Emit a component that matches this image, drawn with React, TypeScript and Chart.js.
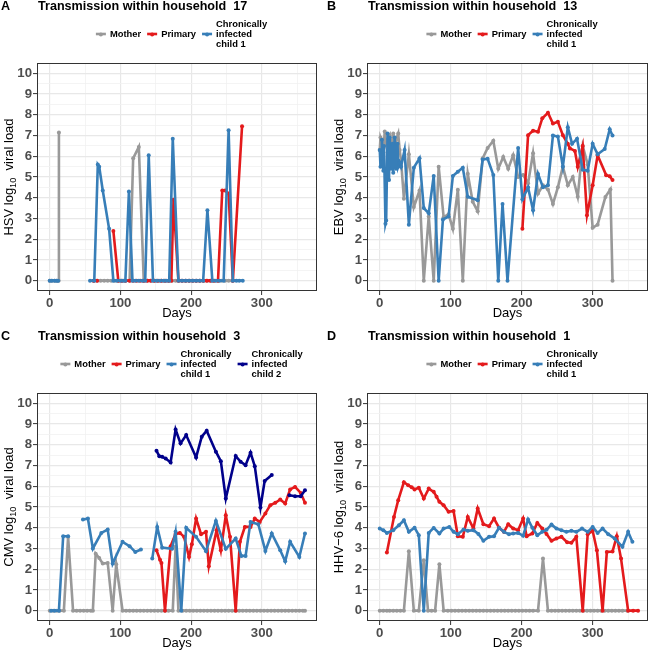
import React, { useEffect, useRef } from "react";
import { Chart, registerables } from "chart.js";
Chart.register(...registerables);

type Pt = [number, number | null];

const GRAY = "#999999";
const RED = "#E41A1C";
const BLUE = "#377EB8";
const NAVY = "#00008B";
const FONT = '"Liberation Sans", Arial, sans-serif';

const xTicks = [0, 50, 100, 150, 200, 250, 300, 350];
const yTicks = [0, 0.5, 1, 1.5, 2, 2.5, 3, 3.5, 4, 4.5, 5, 5.5, 6, 6.5, 7, 7.5, 8, 8.5, 9, 9.5, 10];

// ---------- Panel A: HSV, household 17 ----------
const hsvMother: Pt[] = [
  [0, 0], [3, 0], [7, 0], [10, 0], [12.5, 0], [13, 7.15], [30, null],
  [62, 0], [67, 0], [72, 0], [77, 0], [82, 0], [87, 0], [92, 0], [97, 0], [102, 0], [107, 0], [113, 0],
  [118, 5.9], [126, 6.45], [133, 0], [138, 0], [143, 0], [148, 0], [153, 0], [158, 0], [163, 0], [168, 0],
  [173, 0], [178, 0], [183, 0], [188, 0], [193, 0], [198, 0], [203, 0], [208, 0], [213, 0], [218, 0],
  [223, 0], [228, 0], [233, 0], [238, 0], [243, 0], [248, 0], [253, 0], [258, 0],
];
const hsvPrimary: Pt[] = [
  [62, 0], [67, 0], [75, null],
  [90, 2.4], [97, 0], [102, 0], [107, 0], [113, 0], [118, 0], [123, 0], [128, 0], [133, 0], [138, 0],
  [143, 0], [148, 0], [153, 0], [158, 0], [163, 0], [168, 0], [172, 0], [175, 3.9], [182, 0], [187, 0],
  [192, 0], [197, 0], [202, 0], [207, 0], [212, 0], [217, 0], [222, 0], [227, 0], [232, 0], [238, 0],
  [244, 4.35], [248, 4.35], [253, 4.2], [259, 0], [272, 7.45],
];
const hsvChild1: Pt[] = [
  [0, 0], [3, 0], [7, 0], [10, 0], [12, 0], [30, null],
  [57, 0], [63, 0], [68, 5.6], [70, 5.5], [75, 4.35], [84, 2.5], [90, 0], [95, 0], [100, 0], [104, 0],
  [107, 0], [112, 4.3], [117, 0], [121, 0], [126, 0], [131, 0], [135, 0], [140, 6.05], [146, 0], [151, 0],
  [156, 0], [161, 0], [165, 0], [169, 0], [174, 6.85], [182, 0], [187, 0], [192, 0], [197, 0], [202, 0],
  [207, 0], [212, 0], [217, 0], [223, 3.4], [230, 0], [235, 0], [240, 0], [246, 0], [253, 7.25], [259, 0],
  [264, 0], [268, 0], [273, 0],
];

// ---------- Panel B: EBV, household 13 ----------
const ebvMother: Pt[] = [
  [0, 6.3], [1, 6.9], [3, 6.7], [5, 6.2], [7, 7.2], [9, 6.6], [11, 6.8], [14, 7.0], [16, 6.1], [19, 7.1],
  [21, 6.3], [23, 6.8], [26, 7.1], [28, 6.3], [30, 5.8], [34, 3.95], [41, 6.1], [48, 3.55], [56, 4.35],
  [62, 0], [69, 3.1], [76, 0], [83, 5.5], [90, 3.06], [97, 3.2], [103, 2.5], [110, 4.39], [117, 0],
  [124, 5.16], [131, 3.8], [138, 3.35], [145, 5.9], [152, 6.4], [160, 6.75], [167, 5.4], [174, 5.97],
  [181, 5.4], [188, 6.05], [195, 5.0], [202, 5.1], [209, 4.7], [216, 6.15], [223, 4.2], [230, 4.6],
  [237, 4.4], [244, 3.7], [251, 4.5], [258, 5.5], [265, 4.6], [272, 5.0], [279, 4.05], [286, 6.5],
  [293, 5.6], [300, 2.55], [307, 2.7], [318, 4.04], [325, 4.4], [328, 0],
];
const ebvPrimary: Pt[] = [
  [201, 2.5], [209, 7.02], [216, 7.23], [223, 7.18], [229, 7.83], [237, 8.1], [244, 7.58], [251, 7.66],
  [258, 7.02], [265, 6.6], [268, 6.38], [275, 6.26], [279, 5.49], [286, 6.49], [292, 3.16], [300, 4.6],
  [307, 6.05], [319, 5.09], [324, 5.04], [328, 4.85],
];
const ebvChild1: Pt[] = [
  [0, 6.3], [1, 5.5], [2, 5.9], [3, 6.8], [5, 5.3], [6, 6.5], [8, 2.75], [9, 2.9], [11, 7.1], [13, 4.85],
  [14, 6.9], [16, 5.4], [18, 6.6], [19, 5.2], [21, 6.9], [23, 5.4], [25, 6.6], [26, 5.5], [28, 5.7],
  [30, 5.5], [35, 6.3], [41, 2.7], [48, 5.45], [56, 5.9], [62, 3.5], [69, 3.25], [76, 5.05], [83, 0],
  [89, 2.95], [97, 3.1], [103, 5.05], [110, 5.25], [117, 5.45], [124, 4.05], [138, 3.88], [145, 5.85],
  [152, 5.88], [160, 5.1], [167, 0], [173, 3.7], [180, 0], [195, 6.4], [201, 3.93], [209, 4.5],
  [216, 3.4], [223, 5.15], [230, 4.5], [237, 4.6], [244, 7.0], [251, 6.95], [258, 5.5], [265, 7.4],
  [271, 6.6], [278, 6.85], [286, 5.35], [293, 5.3], [300, 6.6], [307, 6.1], [317, 6.35], [324, 7.3],
  [328, 7.0],
];

// ---------- Panel C: CMV, household 3 ----------
const cmvMother: Pt[] = [
  [0, 0], [5, 0], [10, 0], [14, 0], [20, 0], [26, 3.56], [33, 0], [38, 0], [43, 0], [48, 0], [53, 0],
  [58, 0], [61, 0], [65, 2.75], [70, 2.54], [75, 2.27], [82, 2.3], [89, 0], [94, 2.24], [103, 0],
  [108, 0], [113, 0], [118, 0], [123, 0], [128, 0], [133, 0], [138, 0], [143, 0], [148, 0], [153, 0],
  [158, 0], [163, 0], [168, 0], [174, 0], [178, 3.08], [182, 0], [188, 0], [193, 0], [198, 0], [203, 0],
  [208, 0], [213, 0], [218, 0], [223, 0], [228, 0], [233, 0], [238, 0], [243, 0], [248, 0], [253, 0],
  [258, 0], [263, 0], [268, 0], [273, 0], [278, 0], [283, 0], [288, 0], [293, 0], [298, 0], [303, 0],
  [308, 0], [313, 0], [318, 0], [323, 0], [328, 0], [333, 0], [338, 0], [343, 0], [348, 0], [353, 0],
  [358, 0], [361, 0],
];
const cmvPrimary: Pt[] = [
  [151, 2.91], [156, 2.46], [158, 2.3], [163, 0], [171, 3.11], [178, 3.7], [184, 3.75], [190, 3.56],
  [197, 2.59], [201, 3.2], [207, 4.44], [214, 3.69], [221, 3.8], [225, 2.14], [236, 3.88], [242, 2.91],
  [249, 4.6], [255, 3.56], [263, 0], [269, 3.32], [276, 4.04], [284, 4.04], [290, 4.44], [297, 4.28],
  [305, 4.69], [312, 5.09], [319, 5.2], [326, 5.36], [333, 5.17], [340, 5.85], [347, 5.97], [355, 5.68],
  [361, 5.2],
];
const cmvChild1: Pt[] = [
  [2, 0], [7, 0], [13, 0], [19, 3.59], [26, 3.59], [35, null],
  [47, 4.4], [54, 4.44], [61, 3.0], [73, 3.75], [82, 3.91], [89, 2.27], [103, 3.32], [113, 3.11],
  [121, 2.83], [129, 2.95], [137, null],
  [145, 2.51], [152, 4.04], [159, 3.04], [173, 2.98], [178, 3.8], [186, 0], [193, 4.0], [207, 3.56],
  [221, 2.87], [235, 4.33], [249, 2.98], [263, 3.48], [271, 2.64], [277, 2.64], [284, 4.28], [295, 4.17],
  [305, 2.88], [314, 3.72], [326, 2.91], [333, 2.38], [340, 3.32], [353, 2.59], [361, 3.72],
];
const cmvChild2: Pt[] = [
  [151, 7.71], [155, 7.45], [159, 7.42], [164, 7.34], [171, 7.15], [178, 8.74], [185, 8.07], [193, 8.47],
  [207, 7.39], [215, 8.39], [222, 8.68], [235, 7.67], [242, 7.21], [249, 5.41], [263, 7.46], [270, 7.18],
  [277, 7.02], [284, 7.62], [290, 6.97], [298, 4.98], [304, 6.26], [314, 6.54], [325, null],
  [339, 5.57], [347, 5.52], [355, 5.52], [361, 5.81],
];

// ---------- Panel D: HHV-6, household 1 ----------
const hhvMother: Pt[] = [
  [0, 0], [5, 0], [10, 0], [14, 0], [19, 0], [24, 0], [29, 0], [34, 0], [41, 2.87], [48, 0], [55, 0],
  [62, 2.43], [68, 0], [73, 0], [78, 0], [84, 2.24], [90, 0], [96, 0], [101, 0], [106, 0], [111, 0],
  [116, 0], [121, 0], [126, 0], [131, 0], [136, 0], [141, 0], [146, 0], [151, 0], [156, 0], [161, 0],
  [166, 0], [171, 0], [176, 0], [181, 0], [186, 0], [191, 0], [196, 0], [201, 0], [206, 0], [211, 0],
  [216, 0], [223, 0], [230, 2.51], [237, 0], [242, 0], [247, 0], [252, 0], [257, 0], [262, 0], [267, 0],
  [272, 0], [277, 0], [282, 0], [287, 0], [292, 0], [297, 0], [302, 0], [307, 0], [312, 0], [317, 0],
  [322, 0], [327, 0], [332, 0], [337, 0], [342, 0], [349, 0],
];
const hhvPrimary: Pt[] = [
  [10, 2.8], [20, 4.52], [26, 5.33], [34, 6.2], [40, 6.05], [45, 5.95], [49, 5.85], [55, 5.93], [62, 5.41],
  [69, 5.89], [76, 5.73], [80, 5.5], [84, 5.25], [90, 5.09], [97, 4.77], [104, 4.81], [110, 3.59],
  [117, 3.56], [124, 4.52], [132, 3.96], [138, 4.93], [146, 4.17], [154, 4.07], [161, 4.44], [168, 4.0],
  [175, 3.8], [181, 4.17], [188, 3.96], [195, 3.88], [202, 4.44], [207, 3.59], [215, 3.72], [222, 4.23],
  [229, 3.96], [235, 3.7], [242, 3.37], [249, 3.48], [256, 3.56], [264, 3.3], [270, 3.27], [277, 3.56],
  [286, 0], [293, 3.69], [300, 3.85], [306, 2.91], [314, 0], [320, 2.83], [328, 2.85], [334, 3.59],
  [340, 2.51], [350, 0], [357, 0], [364, 0],
];
const hhvChild1: Pt[] = [
  [0, 3.96], [5, 3.88], [10, 3.75], [19, 3.88], [27, 4.12], [34, 4.36], [41, 3.8], [49, 4.0], [55, 3.64],
  [62, 0], [69, 3.75], [76, 3.99], [84, 3.72], [90, 3.96], [98, 4.04], [104, 3.8], [110, 3.69],
  [118, 3.91], [124, 3.85], [132, 3.88], [139, 3.7], [146, 3.37], [154, 3.56], [161, 3.59], [168, 4.0],
  [175, 3.8], [182, 3.69], [188, 3.72], [195, 3.75], [202, 3.61], [209, 4.4], [215, 4.0], [222, 3.64],
  [229, 3.8], [235, 3.9], [242, 4.15], [249, 3.96], [256, 3.88], [263, 3.8], [270, 3.85], [277, 3.8],
  [285, 3.96], [293, 3.8], [300, 4.04], [307, 3.75], [314, 3.96], [322, 3.69], [331, 3.48], [342, 3.08],
  [350, 3.8], [356, 3.32],
];

type Series = { lines: string[]; color: string; data: Pt[] };
type PanelCfg = {
  letter: string;
  household: string;
  virus: string;
  series: Series[];
  padLeft: number;
  padRight: number;
  padTop: number;
  yAxisW: number;
  xAxisH: number;
};

const CHILD1 = ["Chronically", "infected", "child 1"];
const CHILD2 = ["Chronically", "infected", "child 2"];

const panels: PanelCfg[] = [
  {
    letter: "A", household: "17", virus: "HSV",
    series: [
      { lines: ["Mother"], color: GRAY, data: hsvMother },
      { lines: ["Primary"], color: RED, data: hsvPrimary },
      { lines: CHILD1, color: BLUE, data: hsvChild1 },
    ],
    padLeft: 0, padRight: 9, padTop: 63, yAxisW: 37, xAxisH: 35,
  },
  {
    letter: "B", household: "13", virus: "EBV",
    series: [
      { lines: ["Mother"], color: GRAY, data: ebvMother },
      { lines: ["Primary"], color: RED, data: ebvPrimary },
      { lines: CHILD1, color: BLUE, data: ebvChild1 },
    ],
    padLeft: 0, padRight: 1, padTop: 63, yAxisW: 41, xAxisH: 35,
  },
  {
    letter: "C", household: "3", virus: "CMV",
    series: [
      { lines: ["Mother"], color: GRAY, data: cmvMother },
      { lines: ["Primary"], color: RED, data: cmvPrimary },
      { lines: CHILD1, color: BLUE, data: cmvChild1 },
      { lines: CHILD2, color: NAVY, data: cmvChild2 },
    ],
    padLeft: 0, padRight: 9, padTop: 67, yAxisW: 37, xAxisH: 31,
  },
  {
    letter: "D", household: "1", virus: "HHV\u22126",
    series: [
      { lines: ["Mother"], color: GRAY, data: hhvMother },
      { lines: ["Primary"], color: RED, data: hhvPrimary },
      { lines: CHILD1, color: BLUE, data: hhvChild1 },
    ],
    padLeft: 0, padRight: 1, padTop: 67, yAxisW: 41, xAxisH: 31,
  },
];

const MAJOR_GRID = "#E8E8E8";
const MINOR_GRID = "#F1F1F1";
const TICK_COLOR = "#4D4D4D";

function makeOverlay(p: PanelCfg) {
  return {
    id: "overlay" + p.letter,
    afterDraw(chart: any) {
      const ctx: CanvasRenderingContext2D = chart.ctx;
      const ca = chart.chartArea;
      ctx.save();
      // panel border
      ctx.strokeStyle = "#333333";
      ctx.lineWidth = 1;
      ctx.strokeRect(ca.left + 0.5, ca.top + 0.5, ca.right - ca.left - 1, ca.bottom - ca.top - 1);

      // letter and title
      const titleY = ca.top - 53;
      ctx.fillStyle = "#000";
      ctx.textBaseline = "alphabetic";
      ctx.textAlign = "left";
      ctx.font = `bold 12.6px ${FONT}`;
      ctx.fillText(p.letter, 1, titleY);
      ctx.fillText("Transmission within household  " + p.household, ca.left + 1, titleY);

      // legend
      const keyY = ca.top - 29;
      ctx.font = `bold 9.4px ${FONT}`;
      const keyW = 10, gapKT = 4, gapItem = 6, lineH = 10;
      const widths = p.series.map(
        (s) => keyW + gapKT + Math.max(...s.lines.map((l) => ctx.measureText(l).width))
      );
      const total = widths.reduce((a, b) => a + b, 0) + gapItem * (widths.length - 1);
      let x = (ca.left + ca.right) / 2 + 4.5 - total / 2;
      p.series.forEach((s, i) => {
        ctx.strokeStyle = s.color;
        ctx.lineWidth = 2.6;
        ctx.beginPath();
        ctx.moveTo(x, keyY);
        ctx.lineTo(x + keyW, keyY);
        ctx.stroke();
        ctx.fillStyle = s.color;
        ctx.beginPath();
        ctx.arc(x + keyW / 2, keyY + 0.5, 2, 0, Math.PI * 2);
        ctx.fill();
        ctx.fillStyle = "#000";
        ctx.textBaseline = "middle";
        const n = s.lines.length;
        s.lines.forEach((l, j) => {
          ctx.fillText(l, x + keyW + gapKT, keyY + (j - (n - 1) / 2) * lineH);
        });
        x += widths[i] + gapItem;
      });

      // x axis title
      ctx.fillStyle = "#000";
      ctx.textAlign = "center";
      ctx.textBaseline = "alphabetic";
      ctx.font = `13px ${FONT}`;
      ctx.fillText("Days", (ca.left + ca.right) / 2, ca.bottom + 26);

      // y axis title with subscript
      const cy = (ca.top + ca.bottom) / 2;
      const bx = ca.left - 24;
      ctx.translate(bx, cy);
      ctx.rotate(-Math.PI / 2);
      ctx.textAlign = "left";
      const part1 = p.virus + " log";
      const part2 = "10";
      const part3 = "  viral load";
      ctx.font = `13px ${FONT}`;
      const w1 = ctx.measureText(part1).width;
      const w3 = ctx.measureText(part3).width;
      ctx.font = `9.2px ${FONT}`;
      const w2 = ctx.measureText(part2).width;
      const tot = w1 + w2 + w3;
      let u = -tot / 2;
      ctx.font = `13px ${FONT}`;
      ctx.fillText(part1, u, 0);
      u += w1;
      ctx.font = `9.2px ${FONT}`;
      ctx.fillText(part2, u, 3);
      u += w2;
      ctx.font = `13px ${FONT}`;
      ctx.fillText(part3, u, 0);
      ctx.restore();
    },
  };
}

function Panel({ p, left, top }: { p: PanelCfg; left: number; top: number }) {
  const ref = useRef<HTMLCanvasElement | null>(null);
  useEffect(() => {
    if (!ref.current) return;
    const n = p.series.length;
    const chart = new Chart(ref.current, {
      type: "line",
      data: {
        datasets: p.series.map((s, i) => ({
          label: s.lines.join(" "),
          data: s.data.map(([x, y]) => ({ x, y })),
          borderColor: s.color,
          backgroundColor: s.color,
          pointBackgroundColor: s.color,
          pointBorderWidth: 0,
          pointRadius: 2,
          borderWidth: 2.6,
          tension: 0,
          spanGaps: false,
          order: n - i,
        })),
      },
      options: {
        responsive: false,
        animation: false,
        devicePixelRatio: 1,
        events: [],
        layout: { padding: { left: p.padLeft, right: p.padRight, top: p.padTop, bottom: 0 } },
        plugins: { legend: { display: false }, tooltip: { enabled: false }, title: { display: false } },
        scales: {
          x: {
            type: "linear",
            min: -18,
            max: 378,
            afterBuildTicks: (s: any) => {
              s.ticks = xTicks.map((v) => ({ value: v }));
            },
            afterFit: (s: any) => {
              s.height = p.xAxisH;
            },
            ticks: {
              autoSkip: false,
              maxRotation: 0,
              padding: 0,
              color: TICK_COLOR,
              font: { family: FONT, size: 13.2, weight: "bold" },
              callback: (v: any) => (Number(v) % 100 === 0 ? String(v) : ""),
            },
            grid: {
              color: (c: any) => (c.tick && c.tick.value % 100 === 0 ? MAJOR_GRID : MINOR_GRID),
              lineWidth: (c: any) => (c.tick && c.tick.value % 100 === 0 ? 1.2 : 0.8),
              tickColor: (c: any) => (c.tick && c.tick.value % 100 === 0 ? "#333333" : "rgba(0,0,0,0)"),
              tickLength: 4,
              tickWidth: 1,
              drawTicks: true,
            },
            border: { display: false },
          },
          y: {
            type: "linear",
            min: -0.5,
            max: 10.5,
            afterBuildTicks: (s: any) => {
              s.ticks = yTicks.map((v) => ({ value: v }));
            },
            afterFit: (s: any) => {
              s.width = p.yAxisW;
            },
            ticks: {
              autoSkip: false,
              padding: 1,
              color: TICK_COLOR,
              font: { family: FONT, size: 13.2, weight: "bold" },
              callback: (v: any) => (Number.isInteger(Number(v)) ? String(v) : ""),
            },
            grid: {
              color: (c: any) => (c.tick && Number.isInteger(c.tick.value) ? MAJOR_GRID : MINOR_GRID),
              lineWidth: (c: any) => (c.tick && Number.isInteger(c.tick.value) ? 1.2 : 0.8),
              tickColor: (c: any) =>
                c.tick && Number.isInteger(c.tick.value) ? "#333333" : "rgba(0,0,0,0)",
              tickLength: 4,
              tickWidth: 1,
              drawTicks: true,
            },
            border: { display: false },
          },
        },
      } as any,
      plugins: [makeOverlay(p)],
    });
    return () => chart.destroy();
  }, [p]);
  return (
    <canvas
      ref={ref}
      width={326}
      height={326}
      style={{ position: "absolute", left, top, width: 326, height: 326, display: "block" }}
    />
  );
}

export default function App() {
  return (
    <div style={{ position: "absolute", left: 0, top: 0, width: 652, height: 652, background: "#fff" }}>
      {panels.map((p, i) => (
        <Panel key={p.letter} p={p} left={(i % 2) * 326} top={Math.floor(i / 2) * 326} />
      ))}
    </div>
  );
}
